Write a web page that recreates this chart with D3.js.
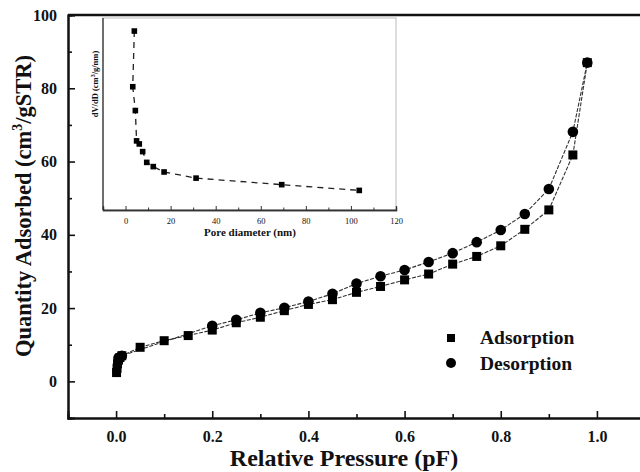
<!DOCTYPE html>
<html>
<head>
<meta charset="utf-8">
<script src="https://cdn.jsdelivr.net/npm/d3@7/dist/d3.min.js"></script>
<style>
  html, body { margin: 0; padding: 0; background: #fff; }
  svg { display: block; }
  text { font-family: "Liberation Serif", "Times New Roman", serif; fill: #111; }
</style>
</head>
<body>
<svg id="chart" width="640" height="472"></svg>
<script>
// Nitrogen isotherm: relative pressure vs quantity adsorbed
const adsP = [0.001, 0.002, 0.003, 0.005, 0.008, 0.012, 0.05, 0.10, 0.15, 0.20, 0.25, 0.30, 0.35, 0.40, 0.45, 0.50, 0.55, 0.60, 0.65, 0.70, 0.75, 0.80, 0.85, 0.90, 0.95, 0.98];
const adsQ = [2.4, 3.6, 4.8, 5.8, 6.5, 7.0, 9.3, 11.1, 12.5, 14.0, 16.0, 17.5, 19.3, 21.0, 22.3, 24.3, 25.9, 27.7, 29.3, 32.0, 34.1, 37.0, 41.5, 46.8, 61.8, 87.0];

const desP = [0.005, 0.012, 0.20, 0.25, 0.30, 0.35, 0.40, 0.45, 0.50, 0.55, 0.60, 0.65, 0.70, 0.75, 0.80, 0.85, 0.90, 0.95, 0.98];
const desQ = [6.4, 7.0, 15.2, 16.8, 18.7, 20.1, 21.8, 23.9, 26.7, 28.7, 30.4, 32.6, 35.0, 38.0, 41.3, 45.7, 52.5, 68.1, 87.0];

// Pore size distribution (inset)
const poreD = [3.9, 3.2, 4.35, 4.9, 6.1, 7.6, 9.4, 12.3, 17.1, 31.3, 69.3, 103.7];
const poreV = [0.466, 0.321, 0.259, 0.180, 0.172, 0.152, 0.124, 0.113, 0.099, 0.083, 0.066, 0.051];

const xMajor = [0.0, 0.2, 0.4, 0.6, 0.8, 1.0];
const xMinor = [0.1, 0.3, 0.5, 0.7, 0.9];
const yMajor = [0, 20, 40, 60, 80, 100];
const yMinor = [10, 30, 50, 70, 90];
const insetMajor = [0, 20, 40, 60, 80, 100, 120];
const insetMinor = [10, 30, 50, 70, 90, 110];

const legendItems = ["Adsorption", "Desorption"];

const svg = d3.select("#chart");

const x = d3.scaleLinear().domain([-0.1, 1.1]).range([68, 645]);
const y = d3.scaleLinear().domain([-10, 100]).range([418, 15]);

// main axes
const gx = svg.append("g").attr("transform", `translate(0,${y(-10)})`);
gx.call(d3.axisBottom(x).tickValues(xMajor).tickSize(-7).tickPadding(13).tickFormat(d3.format(".1f")));
gx.append("g").call(d3.axisBottom(x).tickValues(xMinor).tickSize(-4).tickFormat(""));
gx.selectAll(".domain").attr("stroke", "#111").attr("stroke-width", 2);
gx.selectAll(".tick line").attr("stroke", "#111").attr("stroke-width", 1.6);
gx.selectAll(".tick text").attr("font-size", 16).attr("font-weight", "bold")
  .attr("font-family", "Liberation Serif, serif").attr("fill", "#222");

const gy = svg.append("g").attr("transform", `translate(${x(-0.1)},0)`);
gy.call(d3.axisLeft(y).tickValues(yMajor).tickSize(-7).tickPadding(11).tickFormat(d3.format("d")));
gy.append("g").call(d3.axisLeft(y).tickValues(yMinor).tickSize(-4).tickFormat(""));
gy.selectAll(".domain").attr("stroke", "#111").attr("stroke-width", 2);
gy.selectAll(".tick line").attr("stroke", "#111").attr("stroke-width", 1.6);
gy.selectAll(".tick text").attr("font-size", 16).attr("font-weight", "bold")
  .attr("font-family", "Liberation Serif, serif").attr("fill", "#222");

// top frame line
svg.append("line").attr("x1", x(-0.1)).attr("x2", 640).attr("y1", y(100)).attr("y2", y(100))
  .attr("stroke", "#111").attr("stroke-width", 2.6);

// axis titles
svg.append("text").attr("x", 344).attr("y", 466).attr("text-anchor", "middle")
  .attr("font-size", 24).attr("font-weight", "bold").text("Relative Pressure (pF)");

const yt = svg.append("text").attr("transform", "translate(31,206) rotate(-90)")
  .attr("text-anchor", "middle").attr("font-size", 22.5).attr("font-weight", "bold");
yt.append("tspan").text("Quantity Adsorbed (cm");
yt.append("tspan").attr("font-size", 14).attr("dy", -9).text("3");
yt.append("tspan").attr("dy", 9).text("/gSTR)");

// isotherm curves
const line = d3.line().x(d => x(d[0])).y(d => y(d[1]));
const ads = adsP.map((p, i) => [p, adsQ[i]]);
const des = desP.map((p, i) => [p, desQ[i]]);

svg.append("path").datum(ads).attr("d", line).attr("fill", "none")
  .attr("stroke", "#333").attr("stroke-width", 1.1).attr("stroke-dasharray", "4,1.5");
svg.append("path").datum(des).attr("d", line).attr("fill", "none")
  .attr("stroke", "#333").attr("stroke-width", 1.1).attr("stroke-dasharray", "4,1.5");

const sq = 9;
svg.append("g").selectAll("rect").data(ads).join("rect")
  .attr("x", d => x(d[0]) - sq / 2).attr("y", d => y(d[1]) - sq / 2)
  .attr("width", sq).attr("height", sq).attr("fill", "#000");
svg.append("g").selectAll("circle").data(des).join("circle")
  .attr("cx", d => x(d[0])).attr("cy", d => y(d[1])).attr("r", 5.3).attr("fill", "#000");

// legend
const lg = svg.append("g");
lg.append("rect").attr("x", 447).attr("y", 334).attr("width", 8).attr("height", 8).attr("fill", "#000");
lg.append("circle").attr("cx", 451).attr("cy", 363).attr("r", 5).attr("fill", "#000");
lg.selectAll("text").data(legendItems).join("text")
  .attr("x", 480).attr("y", (d, i) => 344 + i * 26)
  .attr("font-size", 19.5).attr("font-weight", "bold").text(d => d);

// inset: pore size distribution
const ix = d3.scaleLinear().domain([-10, 120]).range([103, 396]);
const iy = d3.scaleLinear().domain([0, 0.5]).range([210, 18]);

const inset = svg.append("g");
inset.append("rect").attr("x", 103).attr("y", 18).attr("width", 293).attr("height", 192)
  .attr("fill", "#fff").attr("stroke", "#bbb").attr("stroke-width", 1);
inset.append("line").attr("x1", 103).attr("x2", 103).attr("y1", 18).attr("y2", 210)
  .attr("stroke", "#333").attr("stroke-width", 1.3);

const gix = inset.append("g").attr("transform", "translate(0,210)");
gix.call(d3.axisBottom(ix).tickValues(insetMajor).tickSize(-4).tickPadding(8).tickFormat(d3.format("d")));
gix.append("g").call(d3.axisBottom(ix).tickValues(insetMinor).tickSize(-2.5).tickFormat(""));
gix.selectAll(".domain").attr("stroke", "#333").attr("stroke-width", 1.3);
gix.selectAll(".tick line").attr("stroke", "#333");
gix.selectAll(".tick text").attr("font-size", 8.5).attr("fill", "#555")
  .attr("font-family", "Liberation Sans, Arial, sans-serif");

inset.append("text").attr("x", 250).attr("y", 236).attr("text-anchor", "middle")
  .attr("font-size", 11).attr("font-weight", "bold").text("Pore diameter (nm)");

const iyt = inset.append("text").attr("transform", "translate(98,84) rotate(-90)")
  .attr("text-anchor", "middle").attr("font-size", 8.5).attr("font-weight", "bold");
iyt.append("tspan").text("dV/dD (cm");
iyt.append("tspan").attr("font-size", 6).attr("dy", -3).text("3");
iyt.append("tspan").attr("dy", 3).text("/g/nm)");

const pore = poreD.map((d, i) => [d, poreV[i]]);
inset.append("path").datum(pore)
  .attr("d", d3.line().x(d => ix(d[0])).y(d => iy(d[1])))
  .attr("fill", "none").attr("stroke", "#222").attr("stroke-width", 1.3)
  .attr("stroke-dasharray", "6,5");
inset.append("g").selectAll("rect").data(pore).join("rect")
  .attr("x", d => ix(d[0]) - 2.8).attr("y", d => iy(d[1]) - 2.8)
  .attr("width", 5.6).attr("height", 5.6).attr("fill", "#000");
</script>
</body>
</html>
